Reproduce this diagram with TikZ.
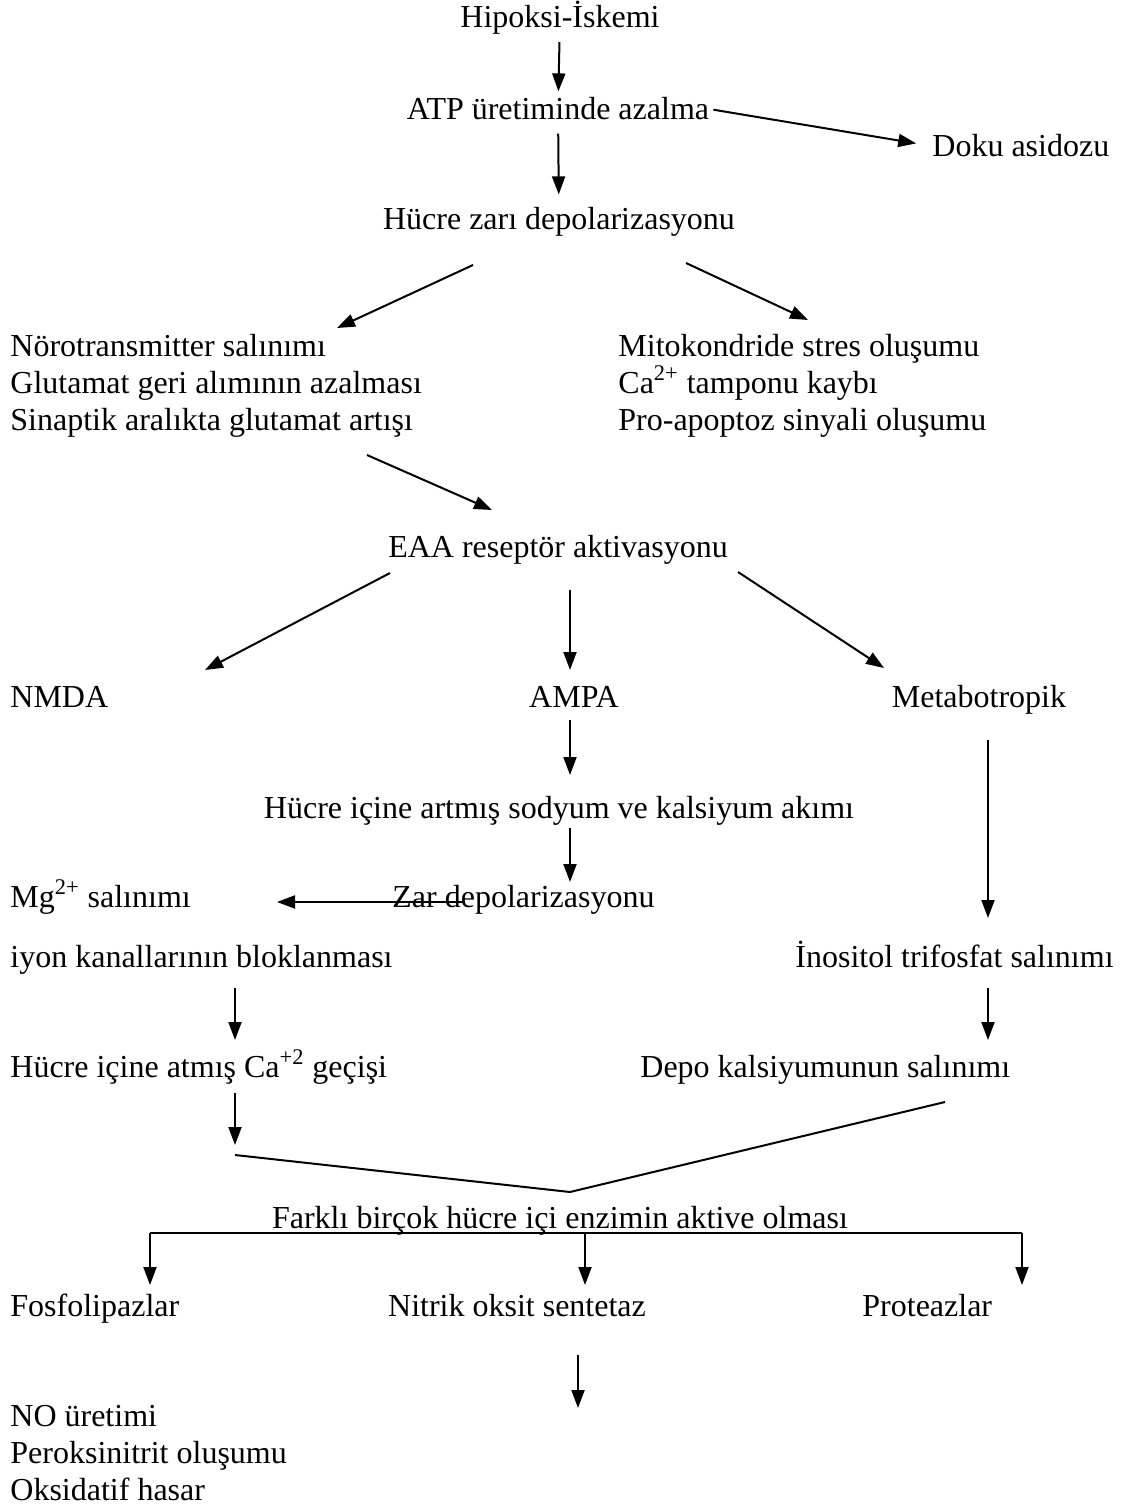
\documentclass[tikz,border=0pt]{standalone}
\usepackage{fontspec}
\setmainfont{Liberation Serif}
\usetikzlibrary{arrows.meta, calc}
\tikzstyle{arrow} = [line width=1pt, -{Triangle[length=9pt,width=6.5pt]}]
\tikzstyle{line} = [line width=1pt]
\tikzstyle{txt} = [inner sep=0pt, font=\fontsize{16}{18.5}\selectfont, align=left]

\begin{document}
\begin{tikzpicture}[x=0.5pt, y=-0.5pt]
  \useasboundingbox (0,0) rectangle (1127,1508);

  % Baslangic
  \node[txt, anchor=base] (hip) at (560,28) {Hipoksi-İskemi};
  \node[txt, anchor=base] (atp) at (558,120) {ATP üretiminde azalma};
  \node[txt, anchor=base west] (doku) at (932,157) {Doku asidozu};
  \node[txt, anchor=base] (zar) at (559,230) {Hücre zarı depolarizasyonu};

  \draw[arrow, shorten <=3.5pt, shorten >=3pt] (hip) -- (atp);
  \draw[arrow, shorten <=2pt, shorten >=8pt] (atp.east) -- (doku.west);
  \draw[arrow, shorten <=6.5pt, shorten >=6.5pt] (atp) -- (zar);

  % Iki yan blok (son satirin tabani)
  \node[txt, anchor=base west] (noro) at (10,430) {Nörotransmitter salınımı\\Glutamat geri alımının azalması\\Sinaptik aralıkta glutamat artışı};
  \node[txt, anchor=base west] (mito) at (618,430) {Mitokondride stres oluşumu\\Ca\textsuperscript{2+} tamponu kaybı\\Pro-apoptoz sinyali oluşumu};

  \coordinate (zarL) at (473,265);
  \coordinate (noroT) at (337,328);
  \coordinate (zarR) at (686,263);
  \coordinate (mitoT) at (808,320);
  \draw[arrow] (zarL) -- (noroT);
  \draw[arrow] (zarR) -- (mitoT);

  % EAA reseptorleri
  \node[txt, anchor=base] (eaa) at (558,557) {EAA reseptör aktivasyonu};
  \coordinate (noroB) at (367,455);
  \coordinate (eaaT) at (492,510);
  \draw[arrow] (noroB) -- (eaaT);

  \node[txt, anchor=base west] (nmda) at (10,707) {NMDA};
  \node[txt, anchor=base] (ampa) at (574,707) {AMPA};
  \node[txt, anchor=base] (meta) at (979,707) {Metabotropik};

  \coordinate (eaaL) at (390,573);
  \coordinate (nmdaT) at (205,670);
  \coordinate (eaaM) at (570,590);
  \coordinate (ampaT) at (570,670);
  \coordinate (eaaR) at (738,572);
  \coordinate (metaT) at (884,668);
  \draw[arrow] (eaaL) -- (nmdaT);
  \draw[arrow] (eaaM) -- (ampaT);
  \draw[arrow] (eaaR) -- (metaT);

  % AMPA kolu
  \node[txt, anchor=base] (sod) at (559,818) {Hücre içine artmış sodyum ve kalsiyum akımı};
  \node[txt, anchor=base west] (zardep) at (392,907) {Zar depolarizasyonu};
  \node[txt, anchor=base west] (mg) at (10,907) {Mg\textsuperscript{2+} salınımı};
  \coordinate (ampaB) at (570,720);
  \coordinate (sodT) at (570,775);
  \coordinate (sodB) at (570,828);
  \coordinate (zardepT) at (570,882);
  \draw[arrow] (ampaB) -- (sodT);
  \draw[arrow] (sodB) -- (zardepT);
  \coordinate (zardepS) at (465,902);
  \coordinate (mgE) at (277,902);
  \draw[arrow] (zardepS) -- (mgE);

  \node[txt, anchor=base west] (iyon) at (10,967) {iyon kanallarının bloklanması};
  \node[txt, anchor=base west] (cagec) at (10,1077) {Hücre içine atmış Ca\textsuperscript{+2} geçişi};
  \coordinate (iyonB) at (235,988);
  \coordinate (cagecT) at (235,1040);
  \coordinate (cagecB) at (235,1093);
  \coordinate (birT) at (235,1145);
  \draw[arrow] (iyonB) -- (cagecT);
  \draw[arrow] (cagecB) -- (birT);

  % Metabotropik kolu
  \node[txt, anchor=base west] (ino) at (795,967) {İnositol trifosfat salınımı};
  \node[txt, anchor=base west] (depo) at (640,1077) {Depo kalsiyumunun salınımı};
  \coordinate (metaB) at (988,740);
  \coordinate (inoT) at (988,918);
  \coordinate (inoB) at (988,988);
  \coordinate (depoT) at (988,1040);
  \draw[arrow] (metaB) -- (inoT);
  \draw[arrow] (inoB) -- (depoT);

  % Birlesme
  \coordinate (birL) at (235,1155);
  \coordinate (birM) at (570,1192);
  \coordinate (depoB) at (945,1102);
  \draw[line] (birL) -- (birM) -- (depoB);

  \node[txt, anchor=base] (enz) at (560,1228) {Farklı birçok hücre içi enzimin aktive olması};

  % Enzimler
  \node[txt, anchor=base west] (fos) at (10,1316) {Fosfolipazlar};
  \node[txt, anchor=base] (nos) at (517,1316) {Nitrik oksit sentetaz};
  \node[txt, anchor=base west] (prot) at (862,1316) {Proteazlar};

  \coordinate (dalL) at (150,1233);
  \coordinate (dalM) at (585,1233);
  \coordinate (dalR) at (1022,1233);
  \draw[line] (dalL) -- (dalR);
  \draw[arrow] (dalL) -- ++(0,52);
  \draw[arrow] (dalM) -- ++(0,52);
  \draw[arrow] (dalR) -- ++(0,52);

  \node[txt, anchor=base west] (no) at (10,1500) {NO üretimi\\Peroksinitrit oluşumu\\Oksidatif hasar};
  \coordinate (nosB) at (578,1355);
  \coordinate (noT) at (578,1408);
  \draw[arrow] (nosB) -- (noT);
\end{tikzpicture}
\end{document}
